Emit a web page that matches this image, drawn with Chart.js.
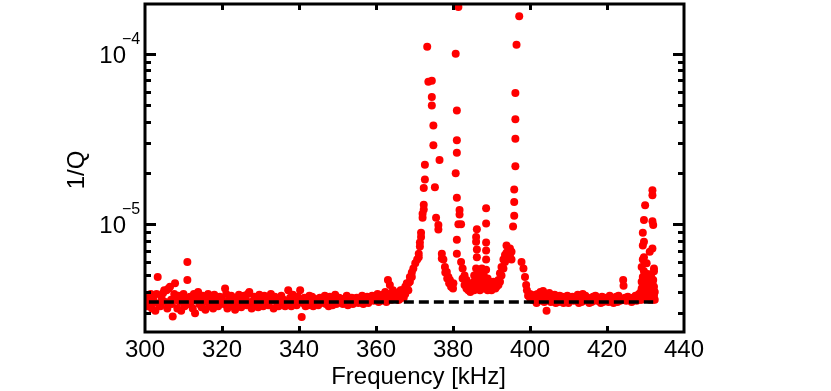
<!DOCTYPE html>
<html lang="en">
<head>
<meta charset="UTF-8">
<title>1/Q vs Frequency</title>
<script src="https://cdn.jsdelivr.net/npm/chart.js@4.4.0/dist/chart.umd.min.js"></script>
<style>
  html, body { margin: 0; padding: 0; background: #fff; }
  #wrap { width: 831px; height: 391px; }
</style>
</head>
<body>
<div id="wrap"><canvas id="qChart" width="831" height="391"></canvas></div>
<script>
// values of 1/Q are written in units of 1e-6
const qUnit = 1e-6;

const xTicks = [300, 320, 340, 360, 380, 400, 420, 440];
const yTickLabels = [{ base: '10', exp: '\u22125', value: 1e-5 }, { base: '10', exp: '\u22124', value: 1e-4 }];
const xTitle = 'Frequency [kHz]';
const yTitle = '1/Q';

// dashed background level and its frequency span
const backgroundLevel = 3.5;
const backgroundSpan = [301, 432];

// [frequency kHz, 1/Q] flat background below the resonances
const baseLeft = [
  [300.3,3.6],[300.6,3.3],[300.9,3.8],[301.2,3.4],[301.5,3.9],[301.8,3.2],
  [302.1,3.7],[302.4,3.5],[302.7,3.1],[303.0,3.9],[303.3,4.9],[303.6,3.4],
  [304.0,3.3],[304.3,3.7],[304.7,3.95],[305.0,4.1],[305.3,3.5],[305.6,4.1],[305.8,3.2],
  [306.1,4.2],[306.5,4.3],[306.8,3.6],[307.0,3.4],[307.2,2.87],[307.6,3.9],[307.8,4.5],
  [308.1,3.6],[308.4,3.2],[308.7,3.8],[309.0,3.5],[309.4,3.1],[309.7,3.7],
  [310.0,3.9],[310.3,3.3],[310.6,3.6],[311.0,6.0],[311.0,4.7],[311.3,3.4],[311.7,3.75],
  [312.0,3.5],[312.4,3.2],[312.7,3.9],[313.0,3.0],[313.4,3.6],[313.8,4.0],
  [314.1,3.4],[314.4,3.7],[314.7,3.25],[315.0,3.8],[315.4,3.5],[315.7,3.15],
  [316.0,3.6],[316.4,3.9],[316.7,3.3],[317.1,3.45],[317.4,3.7],[317.7,3.2],
  [318.0,3.85],[318.4,3.35],[318.7,3.6],[319.0,3.3],[319.4,3.75],[319.7,3.5],
  [320.0,3.6],[320.4,3.4],[320.8,4.2],[321.1,3.9],[321.4,3.2],[321.7,3.55],
  [322.0,3.5],[322.4,3.8],[322.7,3.3],[323.0,3.7],[323.4,3.15],[323.7,3.45],
  [324.0,3.4],[324.4,3.85],[324.7,3.6],[325.0,3.25],[325.4,3.55],[325.7,3.8],
  [326.0,3.65],[326.4,3.35],[326.7,3.9],[327.1,4.0],[327.4,3.5],[327.7,3.2],
  [328.0,3.45],[328.4,3.75],[328.7,3.3],[329.0,3.6],[329.4,3.25],[329.7,3.85],
  [330.0,3.5],[330.4,3.7],[330.7,3.3],[331.0,3.8],[331.4,3.4],[331.7,3.6],
  [332.0,3.35],[332.4,3.65],[332.7,3.9],[333.0,3.55],[333.4,3.2],[333.7,3.75],
  [334.0,3.7],[334.4,3.45],[334.7,3.3],[335.0,3.4],[335.4,3.8],[335.7,3.6],
  [336.0,3.6],[336.4,3.3],[336.7,3.5],[337.2,4.1],[337.4,3.45],[337.7,3.7],
  [338.0,3.3],[338.4,3.85],[338.7,3.55],[339.0,3.6],[339.4,3.35],[339.7,3.75],
  [340.3,4.1],[340.4,3.5],[340.7,2.85],[341.0,3.45],[341.4,3.7],[341.7,3.3],
  [342.0,3.6],[342.4,3.35],[342.7,3.8],[343.0,3.5],[343.4,3.75],[343.7,3.3],
  [344.0,3.65],[344.4,3.4],[344.7,3.55],[345.0,3.35],[345.4,3.7],[345.7,3.5],
  [346.0,3.6],[346.4,3.45],[346.7,3.8],[347.0,3.4],[347.4,3.65],[347.7,3.3],
  [348.0,3.75],[348.4,3.5],[348.7,3.35],[349.0,3.55],[349.4,3.85],[349.7,3.4],
  [350.0,3.45],[350.4,3.7],[350.7,3.6],[351.0,3.65],[351.4,3.4],[351.7,3.55],
  [352.0,3.5],[352.4,3.8],[352.7,3.35],[353.0,3.6],[353.4,3.45],[353.7,3.7],
  [354.0,3.4],[354.4,3.65],[354.7,3.5],[355.0,3.7],[355.4,3.45],[355.7,3.6],
  [356.0,3.55],[356.4,3.8],[356.7,3.4],[357.0,3.65],[357.4,3.5],[357.7,3.75],
  [358.0,3.45],[358.4,3.7],[358.7,3.6],[359.0,3.8],[359.4,3.55],[359.7,3.65],
  [360.0,3.6],[360.4,3.9],[360.7,3.5],[361.0,3.75],[361.4,3.55],[361.7,3.85],
  [362.0,3.65],[362.4,4.0],[362.7,3.5],[363.1,4.7],[363.4,3.7],[363.6,4.4],[363.8,3.9],
  [364.0,3.6],[364.4,4.1],[364.7,3.8],[365.0,3.75],[365.4,3.95],[365.7,3.6]
];

// the three resonances between 366 and 401 kHz
const peaksMid = [
  [366.0,3.6],[366.0,3.9],[366.4,3.7],[366.4,4.1],[366.8,3.8],[366.8,4.1],[367.2,3.7],[367.2,4.0],
  [367.6,3.9],[367.6,4.3],[368.0,4.1],[368.0,4.5],[368.4,4.1],[368.4,4.5],[368.8,4.6],[368.8,4.9],
  [369.3,4.9],[369.3,5.2],[369.7,5.5],[370.2,5.9],[370.7,6.2],[371.1,6.4],[371.1,6.7],[371.4,7.4],
  [371.4,7.8],[371.7,8.4],[371.7,8.9],[372.1,10.9],[372.1,11.5],[372.4,12.2],[372.4,13.0],[372.4,16.3],
  [372.7,18.3],[372.7,22.3],[373.3,110],[373.6,68.6],[374.5,69.5],[374.5,55.8],[374.5,49.7],
  [374.9,37.9],[374.9,29.1],[375.3,16.5],[375.6,10.9],[376.2,9.9],[376.2,9.3],[376.5,23.8],
  [377.1,6.7],[377.1,6.3],[377.5,6.2],[377.9,5.6],[378.0,5.2],[378.4,5.25],[378.5,4.8],[378.8,4.9],
  [379.0,4.5],[379.2,4.7],[379.5,4.3],[380.0,4.2],[380.1,4.5],[380.7,100],[380.7,19.9],
  [381.0,46.4],[381.0,31.1],[381.0,26.3],[381.0,14.3],[381.0,8.1],[381.0,6.7],[381.4,188],[381.4,10.0],
  [381.7,12.1],[381.7,11.4],[382.1,10.0],[382.1,6.0],[382.5,5.5],[382.5,4.8],[383.0,5.0],[383.0,4.4],
  [383.5,4.7],[383.5,4.2],[384.0,4.5],[384.0,4.1],[384.5,4.4],[384.5,4.0],[385.0,4.5],[385.0,4.2],
  [385.5,4.6],[385.5,4.1],[385.5,5.0],[386.0,8.4],[386.0,7.9],[386.0,5.5],[386.2,9.35],[386.2,7.1],
  [386.2,6.4],[386.6,4.9],[386.6,4.3],[387.0,4.7],[387.0,4.1],[387.0,5.2],[387.5,4.8],[387.5,4.3],
  [387.5,5.5],[388.0,4.6],[388.0,4.2],[388.0,5.0],[388.6,12.4],[388.6,10.1],[388.6,7.8],[388.6,7.0],
  [388.6,6.2],[388.6,5.4],[389.0,4.8],[389.0,4.4],[389.0,4.1],[389.5,4.6],[389.5,4.2],[390.0,4.5],
  [390.0,4.1],[390.5,4.4],[390.5,4.6],[391.0,4.2],[391.0,4.5],[391.3,4.3],[391.8,4.7],[391.8,4.4],
  [392.2,5.15],[392.2,4.6],[392.6,5.6],[392.6,5.0],[393.1,6.2],[393.1,5.5],[393.5,6.6],[393.5,6.0],
  [393.9,7.5],[393.9,6.8],[394.4,7.1],[394.4,6.3],[394.8,7.2],[394.8,6.6],[395.2,6.9],[395.2,6.2],
  [395.6,9.7],[395.9,16.0],[395.9,13.5],[395.9,11.2],[396.5,113],[396.2,58.9],[396.2,41.3],
  [396.2,31.7],[396.2,21.9],[397.2,166],[397.8,6.0],[398.3,5.5],[398.7,4.9],[399.0,4.4],
  [399.2,4.1],[399.5,3.8],[400.0,3.7],[400.0,3.9],[400.5,3.6]
];

const baseRight = [
  [401.0,3.6],[401.4,3.85],[401.7,3.45],[402.0,3.9],[402.4,3.55],[402.7,4.0],
  [403.0,3.7],[403.4,4.05],[403.7,3.5],[404.3,3.1],[404.4,3.8],[404.7,3.6],
  [405.0,3.95],[405.4,3.5],[405.7,3.7],[406.0,3.6],[406.4,3.85],[406.7,3.45],
  [407.0,3.7],[407.4,3.5],[407.7,3.8],[408.0,3.55],[408.4,3.75],[408.7,3.45],
  [409.0,3.65],[409.4,3.5],[409.7,3.8],[410.0,3.45],[410.4,3.7],[410.7,3.6],
  [411.0,3.75],[411.4,3.55],[411.7,3.65],[412.0,3.6],[412.4,3.85],[412.7,3.45],
  [413.0,3.7],[413.4,3.5],[413.7,3.9],[414.0,3.55],[414.4,3.8],[414.7,3.6],
  [415.0,3.7],[415.4,3.45],[415.7,3.65],[416.0,3.5],[416.4,3.75],[416.7,3.6],
  [417.0,3.8],[417.4,3.55],[417.7,3.7],[418.0,3.6],[418.4,3.45],[418.7,3.75],
  [419.0,3.5],[419.4,3.7],[419.7,3.55],[420.0,3.65],[420.4,3.5],[420.7,3.8],
  [421.0,3.55],[421.4,3.7],[421.7,3.45],[422.0,3.6],[422.4,3.75],[422.7,3.5],
  [423.0,3.8],[423.4,3.55],[423.7,3.65],[424.2,4.7],[424.3,4.35],[424.4,3.6],[424.7,3.7],
  [425.0,3.55],[425.4,3.75],[425.7,3.6],[426.0,3.65],[426.4,3.5],[426.7,3.7],
  [427.0,3.6],[427.4,3.8],[427.7,3.55],[428.0,3.7],[428.3,3.9],[428.6,3.6],[428.8,4.0]
];

// the resonance at the upper end of the sweep
const peakHigh = [
  [429.0,3.6],[429.0,3.9],[429.0,4.2],[429.0,4.6],[429.0,5.6],
  [429.3,3.7],[429.3,4.1],[429.3,4.4],[429.3,4.9],[429.3,6.2],[429.3,7.5],[429.3,8.9],
  [429.6,3.8],[429.6,4.3],[429.6,4.7],[429.6,5.3],[429.6,6.4],[429.6,7.9],[429.6,10.6],
  [429.9,3.9],[429.9,4.4],[429.9,5.0],[429.9,5.9],[429.9,12.9],
  [430.3,3.7],[430.3,4.2],[430.3,4.6],[430.3,5.9],
  [430.6,3.8],[430.6,4.4],[430.6,5.1],
  [431.1,3.6],[431.1,4.0],[431.1,4.5],[431.1,6.9],
  [431.5,3.9],[431.5,4.2],[431.5,4.9],
  [431.8,3.7],[431.8,4.5],[431.8,7.2],[431.8,10.4],[431.8,14.8],[431.8,15.8],
  [432.0,3.6],[432.0,4.1],[432.0,4.7],[432.0,9.9],
  [432.2,3.8],[432.2,4.3],[432.2,5.3],[432.2,5.5],
  [432.4,3.6],[432.4,4.0]
];

const font = '"Liberation Sans", Arial, Helvetica, sans-serif';

const points = [...baseLeft, ...peaksMid, ...baseRight, ...peakHigh]
  .map(([f, q]) => ({ x: f, y: q * qUnit }));

// frame, inward ticks on all four sides, and the axis texts
const framePlugin = {
  id: 'frame',
  afterDraw(chart) {
    const { ctx, chartArea: a } = chart;
    const x = chart.scales.x, y = chart.scales.y;
    ctx.save();
    ctx.strokeStyle = '#000';
    ctx.lineWidth = 3;
    ctx.lineCap = 'butt';

    ctx.beginPath();
    xTicks.forEach(t => {
      if (t <= x.min || t >= x.max) return;
      const px = Math.round(x.getPixelForValue(t)) + 0.5;
      ctx.moveTo(px, a.bottom); ctx.lineTo(px, a.bottom - 6);
      ctx.moveTo(px, a.top); ctx.lineTo(px, a.top + 6);
    });
    for (let d = -6; d <= -4; d++) {
      for (let m = 1; m <= 9; m++) {
        const v = m * Math.pow(10, d);
        if (v < y.min || v > y.max) continue;
        const py = Math.round(y.getPixelForValue(v)) + 0.5;
        const len = m === 1 ? 11 : 6;
        ctx.moveTo(a.left, py); ctx.lineTo(a.left + len, py);
        ctx.moveTo(a.right, py); ctx.lineTo(a.right - len, py);
      }
    }
    ctx.stroke();
    ctx.strokeRect(a.left, a.top, a.right - a.left, a.bottom - a.top);

    ctx.fillStyle = '#000';
    ctx.font = '24px ' + font;
    ctx.textAlign = 'center';
    ctx.textBaseline = 'alphabetic';
    xTicks.forEach(t => ctx.fillText(String(t), x.getPixelForValue(t), a.bottom + 25));
    ctx.fillText(xTitle, (a.left + a.right) / 2 + 4, a.bottom + 52);

    yTickLabels.forEach(l => {
      const py = y.getPixelForValue(l.value);
      ctx.font = '24px ' + font;
      ctx.textAlign = 'right';
      ctx.fillText(l.base, a.left - 19, py + 9);
      ctx.font = '16px ' + font;
      ctx.textAlign = 'left';
      ctx.fillText(l.exp, a.left - 23, py - 10);
    });

    ctx.translate(a.left - 68, (a.top + a.bottom) / 2 + 2);
    ctx.rotate(-Math.PI / 2);
    ctx.font = '24px ' + font;
    ctx.textAlign = 'center';
    ctx.textBaseline = 'middle';
    ctx.fillText(yTitle, 0, 0);
    ctx.restore();
  }
};

new Chart(document.getElementById('qChart'), {
  type: 'scatter',
  data: {
    datasets: [
      {
        type: 'line',
        data: backgroundSpan.map(f => ({ x: f, y: backgroundLevel * qUnit })),
        borderColor: '#000',
        borderWidth: 3.5,
        borderDash: [10, 5],
        pointRadius: 0,
        fill: false
      },
      {
        data: points,
        backgroundColor: '#ff0000',
        borderWidth: 0,
        pointRadius: 4,
        pointHoverRadius: 4
      }
    ]
  },
  options: {
    responsive: false,
    animation: false,
    events: [],
    layout: { padding: { top: 3, right: 147, bottom: 0, left: 0 } },
    plugins: { legend: { display: false }, tooltip: { enabled: false } },
    scales: {
      x: {
        type: 'linear', min: 300, max: 440,
        grid: { display: false }, border: { display: false },
        ticks: { display: false },
        afterFit: s => { s.height = 59; }
      },
      y: {
        type: 'logarithmic', min: 2.33e-6, max: 1.96e-4,
        grid: { display: false }, border: { display: false },
        ticks: { display: false },
        afterFit: s => { s.width = 145; }
      }
    }
  },
  plugins: [framePlugin]
});
</script>
</body>
</html>
